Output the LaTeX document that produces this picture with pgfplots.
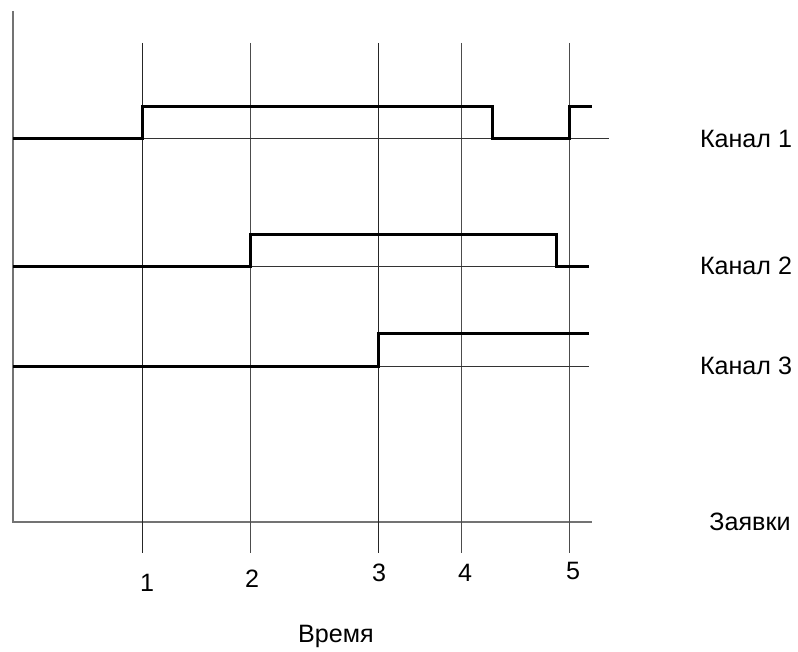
\documentclass[border=0pt]{standalone}
\usepackage{fontspec}
\setmainfont{Liberation Sans}
\usepackage{pgfplots}
\pgfplotsset{compat=1.18}
\tikzset{lbl/.style={font=\fontsize{12.6}{15}\selectfont, inner sep=0pt}}
\begin{document}
\begin{tikzpicture}
\begin{axis}[
    width=399bp, height=326bp, scale only axis,
    xmin=0, xmax=798, ymin=0, ymax=652, y dir=reverse,
    hide axis, clip=false,
]
  % frame extent
  \addplot[draw=none] coordinates {(0,0) (798,652)};
  % left and bottom axis
  \addplot[gray!90!black, line width=1bp] coordinates {(13,11) (13,522) (592,522)};
  % time grid
  \addplot[black!85, line width=0.5bp] coordinates {(142,43) (142,553)};
  \addplot[black!70, line width=0.5bp] coordinates {(250,43) (250,553)};
  \addplot[black!85, line width=0.5bp] coordinates {(378,43) (378,553)};
  \addplot[black!70, line width=0.5bp] coordinates {(461,43) (461,553)};
  \addplot[black!70, line width=0.5bp] coordinates {(569,43) (569,553)};
  % channel baselines
  \addplot[black!80, line width=0.5bp] coordinates {(13,138) (609,138)};
  \addplot[black!80, line width=0.5bp] coordinates {(13,266) (589,266)};
  \addplot[black!80, line width=0.5bp] coordinates {(13,366) (589,366)};
  % channel states
  \addplot[black, line width=1.5bp] coordinates {
    (13,138) (142,138) (142,107) (492,107) (492,138) (569,138) (569,107) (592,107)};
  \addplot[black, line width=1.5bp] coordinates {
    (13,266) (250,266) (250,234) (556,234) (556,266) (589,266)};
  \addplot[black, line width=1.5bp] coordinates {
    (13,366) (378,366) (378,333) (589,333)};
  % labels
  \node[lbl] at (axis cs:746,139) {Канал 1};
  \node[lbl] at (axis cs:746,266) {Канал 2};
  \node[lbl] at (axis cs:746,366) {Канал 3};
  \node[lbl] at (axis cs:750,522) {Заявки};
  \node[lbl] at (axis cs:336,636) {Время};
  \node[lbl] at (axis cs:147,583) {1};
  \node[lbl] at (axis cs:252,579) {2};
  \node[lbl] at (axis cs:379,573) {3};
  \node[lbl] at (axis cs:465,573) {4};
  \node[lbl] at (axis cs:573,571) {5};
\end{axis}
\end{tikzpicture}
\end{document}
